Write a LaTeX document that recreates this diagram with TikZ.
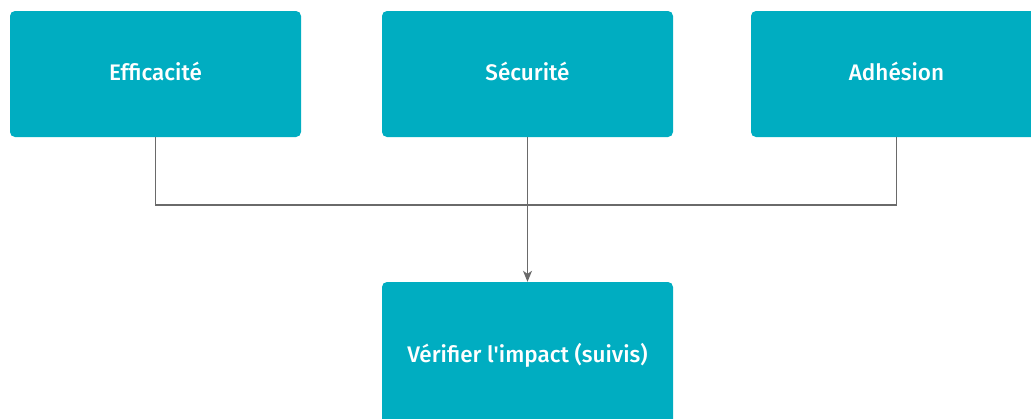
\documentclass[tikz,border=0pt]{standalone}
\usepackage{fontspec}
\setmainfont{Fira Sans}[UprightFont=* Medium]
\usetikzlibrary{arrows.meta}
\definecolor{boxc}{HTML}{00ADC1}
\definecolor{linec}{HTML}{6A6A6A}
\begin{document}
\begin{tikzpicture}[x=1pt,y=-1pt,
  box/.style={fill=boxc,text=white,minimum width=291pt,rounded corners=5pt,inner sep=0pt,font=\fontsize{22.5}{26}\selectfont},
  conn/.style={draw=linec,line width=1.4pt}]
\useasboundingbox (0,0) rectangle (1031,418);
\begin{scope}
\clip (0,0) rectangle (1031,418);
\node[box,minimum height=126pt] (a) at (155.5,74) {\raisebox{6pt}{Efficacité}};
\node[box,minimum height=126pt] (b) at (527.5,74) {\raisebox{6pt}{Sécurité}};
\node[box,minimum height=126pt] (c) at (896.5,74) {\raisebox{6pt}{Adhésion}};
\node[box,minimum height=146pt] (d) at (527.5,355) {\raisebox{1pt}{Vérifier l\textquotesingle impact (suivis)}};
\coordinate (j) at (a.south |- 0,205);
\coordinate (k) at (c.south |- 0,205);
\draw[conn] (a.south) -- (j) -- (k) -- (c.south);
\draw[conn,-{Stealth[length=11pt,width=9pt,inset=3pt]}] (b.south) -- (d.north);
\end{scope}
\end{tikzpicture}
\end{document}
